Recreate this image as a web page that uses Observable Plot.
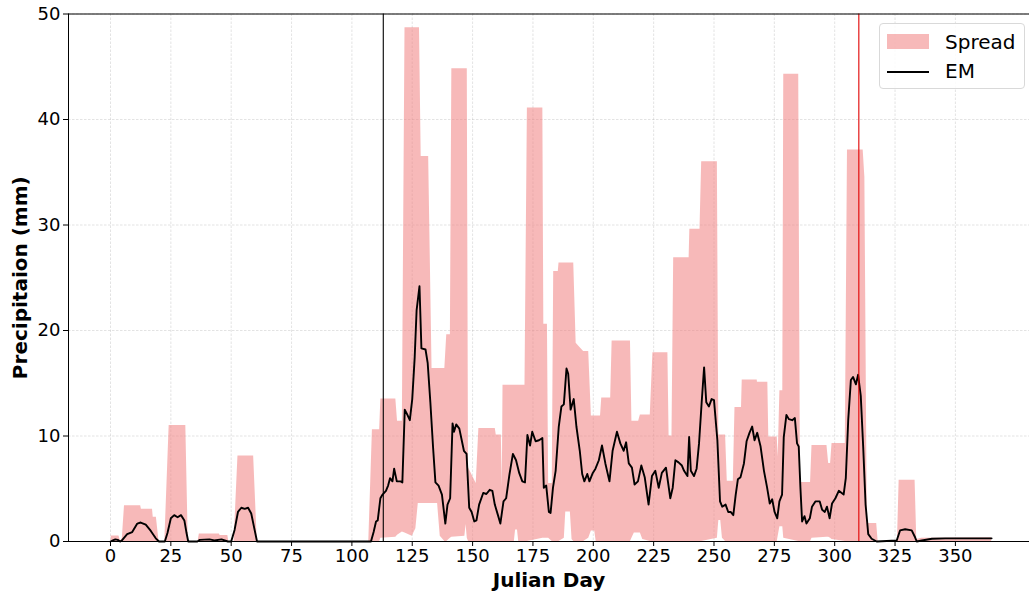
<!DOCTYPE html>
<html>
<head>
<meta charset="utf-8">
<script src="https://cdn.jsdelivr.net/npm/d3@7"></script>
<script src="https://cdn.jsdelivr.net/npm/@observablehq/plot@0.6"></script>
<style>
  html, body { margin: 0; padding: 0; background: #fff; overflow: hidden; }
  #chart { position: relative; width: 1029px; height: 595px; font-family: "DejaVu Sans", sans-serif; }
  #legend { position: absolute; left: 879px; top: 23px; width: 146px; height: 66px; box-sizing: border-box;
            border: 1px solid #d9d9d9; border-radius: 4px; background: rgba(255,255,255,0.85); }
  #legend .sw { position: absolute; left: 7px; top: 10px; width: 42px; height: 15px; background: #f08080; opacity: 0.55; }
  #legend .ln { position: absolute; left: 7px; top: 47px; width: 42px; height: 2px; background: #000; }
  #legend .lb { position: absolute; left: 65px; font-size: 20px; line-height: 22px; color: #000; }
</style>
</head>
<body>
<div id="chart"></div>
<script>
// ---- data ----
const xTicks = [0, 25, 50, 75, 100, 125, 150, 175, 200, 225, 250, 275, 300, 325, 350];
const yTicks = [0, 10, 20, 30, 40, 50];
const xDomain = [-17.4, 380.7];
const yDomain = [0, 50];

const spreadDays = [
  0.3,3.5,4.2,4.9,5.8,12.5,12.8,17.4,17.7,19,
  20.1,22.5,24.3,31.2,32.2,36.3,36.8,45.1,45.4,48.6,
  49,51.2,52.8,59.3,60.8,107,108.5,111.5,112,118.2,
  118.9,120.9,122,125,126.5,127.5,128,128.7,131.8,133.2,
  135.5,136.6,138.5,139.3,140.8,141.4,146.8,147.3,147.8,148.3,
  151.5,152.6,159.4,159.8,161.9,162.3,162.6,167.3,167.8,168.6,
  169.1,171.7,172.7,179.1,179.5,181,181.5,183,183.6,185.5,
  185.8,188,188.6,190.5,191.2,191.9,192.9,194,196,198.1,
  199.2,200.6,201.2,203,203.5,207.2,207.8,215.4,216,217,
  218.8,219.5,220.5,223.6,224.7,230.9,231.4,232.6,233.3,239.7,
  240,244.2,244.9,251.4,252,252.8,253.5,254.8,255.5,258,
  258.7,261.4,261.7,267.9,268,272.3,272.7,276.2,276.6,277.3,
  278.5,278.9,285.1,285.8,290,290.6,296.8,297.5,298.3,298.9,
  304.4,305.3,311.8,312.5,313.5,317.4,318,326,326.7,333.3,
  334,336,365
];
const spreadHi = [
  0.53,0.53,0,0.3,3.4,3.4,3.06,3.06,2.3,2.3,
  0,0,11.0,11.0,0,0,0.72,0.72,0.56,0.56,
  0,0,8.1,8.1,0,0,10.6,10.6,13.5,13.5,
  11.4,11.4,48.7,48.7,48.7,48.7,48.7,36.5,36.5,16.4,
  16.4,16.4,16.4,19.6,19.6,44.8,44.8,44.8,44.8,7.0,
  5.5,10.7,10.7,10.1,10.1,5.1,14.8,14.8,14.8,14.8,
  14.8,14.8,41.1,41.1,20.6,20.6,5.5,5.5,25.6,25.6,
  26.4,26.4,26.4,26.4,26.4,26.4,18.8,18.5,18.0,18.0,
  11.9,11.9,11.9,11.9,13.6,13.6,19.0,19.0,11.4,11.4,
  11.4,12.0,12.0,12.0,17.9,17.9,10,10,26.9,26.9,
  29.6,29.6,36.0,36.0,10.1,10.1,10.1,10.1,5.7,5.7,
  12.7,12.7,15.3,15.3,15.1,15.1,9.9,9.9,8.0,14.3,
  14.3,44.3,44.3,5.6,5.6,9.1,9.1,7.4,7.4,9.3,
  9.3,37.1,37.1,34.5,1.7,1.7,0,0,5.8,5.8,
  0.2,0.3,0.35
];
const spreadLo = [
  0,0,0,0,0,0,0,0,0,0,
  0,0,0,0,0,0,0,0,0,0,
  0,0,0,0,0,0,0,0,0.3,0.4,
  0.6,0.9,0.8,0.5,1.2,3.6,3.6,3.6,3.6,3.6,
  3.6,0.5,0,0,0.3,0.4,0.5,1.6,0.3,0,
  0,0,0,0,0,0,0,0,1.1,1.1,
  0,0,0,0.3,0.3,0.3,0.3,0,0,0,
  0,0.3,2.8,2.8,0.2,0,0,0,0,0.3,
  1.0,1.0,0,0,0,0,0,0,0.3,0.8,
  0.8,0.8,0.2,0,0,0,0,0,0,0,
  0,0,0,0.3,2.0,2.0,0.3,0,0,0,
  0,0,0,0,0,0,0,0,0.5,1.4,
  1.4,0.3,0,0,0,0.3,0.4,0.4,0.3,0.2,
  0,0,0,0,0,0,0,0,0,0,
  0,0,0
];

const emDays = [
  0,1,2,3,4,4.9,6.9,9,11.1,12.5,14.6,16.7,18.75,20.1,22.5,23.6,25,26.4,27.8,29.2,
  30.6,31.5,32.2,36,37,41,43,46,48.6,50,51.4,52.8,54.2,55.6,57,58.3,59.7,60.7,107.9,109,
  110,110.7,111.8,112.7,114.1,115,115.8,116.8,117.5,118.6,120.2,120.9,121.9,123,124,125,126,126.8,128,128.8,
  130.5,131.4,132.5,133.6,134.6,135.9,137.3,138.7,139.6,140.7,141.7,142.3,143.2,144.5,145.5,146.4,147.5,148.6,149.6,150.7,
  151.6,152.7,154.4,155.7,157.1,158.2,159.2,160.5,161.5,162.8,163.9,165.3,166.7,168,169.3,170.6,171.7,172.7,173.8,174.7,
  176.1,177.5,178.9,179.5,180.5,181.6,182.3,183.3,184.4,185.7,186.8,187.8,188.9,189.6,190.6,191.9,193,194.4,195.4,196.3,
  197.5,198.4,199.8,200.9,202.3,203.6,205,206.7,208,209.8,211.2,212.6,213.6,214.7,216,217.1,218.5,219.9,221.3,222.9,
  224.3,225.7,227.1,228.4,230.1,231.9,232.9,234,235.3,236.7,237.6,239,239.7,240.4,241.7,242.8,243.8,244.9,245.9,246.8,
  247.9,249,250,251.4,252.5,253.4,254.8,255.9,256.9,258,259,259.9,261,262.4,263.5,264.7,265.8,266.8,267.9,269.3,
  270.7,272,273.1,274.1,275.1,276.2,277.1,278.2,278.9,280,281,282.4,283.5,284.4,285.1,285.8,286.5,287.5,288.3,289.7,
  290.6,292,293.8,294.8,295.9,296.8,297.9,298.9,300.3,301.7,303.7,304.6,305.6,306.7,307.6,308.8,309.7,310.8,311.8,312.8,
  313.9,315.3,317.4,325.7,327.1,329.2,331.9,333.3,334,336.1,340.3,345.8,365
];
const emValues = [
  0,0.1,0.2,0.15,0,0.15,0.7,0.9,1.7,1.8,1.6,1.0,0.3,0,0,0.8,2.2,2.5,2.3,2.5,
  2.0,0.8,0,0,0.15,0.2,0.1,0.2,0,0,1.1,2.8,3.2,3.1,3.2,2.65,1.1,0,0,0.9,
  1.9,2.0,4.1,4.45,4.8,5.3,6.0,5.7,6.9,5.7,5.7,5.6,12.5,12.0,11.5,13.5,17.4,21.9,24.2,18.3,
  18.2,16.9,13.2,9.0,5.6,5.3,4.45,1.7,3.5,4.1,11.2,10.4,11.1,10.7,9.6,8.6,8.3,3.2,2.8,1.9,
  2.0,3.5,4.6,4.5,4.9,4.8,3.5,2.5,1.7,3.8,4.1,6.4,8.3,7.7,6.5,5.7,5.6,10.1,9.1,10.4,
  9.5,9.6,9.8,5.1,5.3,2.8,2.7,5.1,6.7,10.9,12.8,13.0,16.4,15.9,12.5,13.5,10.9,8.6,6.4,5.7,
  6.4,5.7,6.5,6.9,7.7,9.1,7.4,5.7,8.6,10.4,9.3,8.6,9.4,7.4,7.0,5.4,5.7,7.2,6.1,3.5,
  6.2,6.7,5.1,6.5,7.0,4.1,5.1,7.7,7.5,7.2,6.7,6.2,9.9,6.7,6.2,6.9,9.3,13.2,16.5,13.2,
  12.8,13.5,13.4,9.6,3.8,3.3,3.5,2.8,2.8,2.5,4.45,5.9,6.1,7.4,9.5,10.3,10.9,9.6,10.3,9.0,
  6.7,5.1,3.6,4.0,2.8,2.2,3.8,4.45,9.9,12.0,11.6,11.5,11.7,9.3,9.0,5.1,1.9,2.4,1.7,2.2,
  3.3,3.8,3.8,3.0,2.8,3.3,2.2,3.6,4.1,4.8,4.45,6.0,11.5,15.3,15.6,14.9,15.8,13.8,9.0,3.5,
  0.7,0.26,0,0.1,1.06,1.16,1.06,0.4,0,0.1,0.26,0.3,0.3
];

const markerDays = [113, 310];
const markerColors = ["#000000", "#e00000"];

// ---- build tables ----
const spread = spreadDays.map((d, i) => ({day: d, hi: spreadHi[i], lo: spreadLo[i]}));
const em = emDays.map((d, i) => ({day: d, v: emValues[i]}));

const pink = "#f08080";

const chart = Plot.plot({
  width: 1029,
  height: 595,
  marginLeft: 68,
  marginRight: 0,
  marginTop: 13.5,
  marginBottom: 54,
  x: {domain: xDomain},
  y: {domain: yDomain},
  style: {fontFamily: "DejaVu Sans, sans-serif", fontSize: "18px", color: "#000", background: "#fff"},
  marks: [
    Plot.gridX(xTicks, {stroke: "#b0b0b0", strokeOpacity: 0.45, strokeWidth: 0.8, strokeDasharray: "2.5,1.5"}),
    Plot.gridY(yTicks, {stroke: "#b0b0b0", strokeOpacity: 0.45, strokeWidth: 0.8, strokeDasharray: "2.5,1.5"}),
    Plot.areaY(spread, {x: "day", y1: "lo", y2: "hi", fill: pink, fillOpacity: 0.55}),
    Plot.line(em, {x: "day", y: "v", stroke: "#000", strokeWidth: 1.9}),
    Plot.ruleX([markerDays[0]], {stroke: markerColors[0], strokeWidth: 1.1}),
    Plot.ruleX([markerDays[1]], {stroke: markerColors[1], strokeWidth: 1.1}),
    Plot.ruleY([yDomain[0]], {stroke: "#000", strokeWidth: 1}),
    Plot.ruleY([yDomain[1]], {stroke: "#000", strokeWidth: 1}),
    Plot.ruleX([xDomain[0]], {stroke: "#000", strokeWidth: 1}),
    Plot.axisX(xTicks, {tickSize: 5, tickPadding: 3, fontSize: 18, label: null, stroke: "#000"}),
    Plot.axisY(yTicks, {tickSize: 5, tickPadding: 3, fontSize: 18, label: null, stroke: "#000"}),
    Plot.text(["Julian Day"], {frameAnchor: "bottom", dy: 39, textAnchor: "middle", lineAnchor: "middle", fontWeight: "bold", fontSize: 20, fill: "#000"}),
    Plot.text(["Precipitaion (mm)"], {frameAnchor: "left", dx: -48, textAnchor: "middle", lineAnchor: "middle", rotate: -90, fontWeight: "bold", fontSize: 20, fill: "#000"})
  ]
});

const root = document.getElementById("chart");
root.appendChild(chart);

const legend = document.createElement("div");
legend.id = "legend";
legend.innerHTML =
  '<div class="sw"></div><div class="lb" style="top:7px">Spread</div>' +
  '<div class="ln"></div><div class="lb" style="top:36px">EM</div>';
root.appendChild(legend);
</script>
</body>
</html>
